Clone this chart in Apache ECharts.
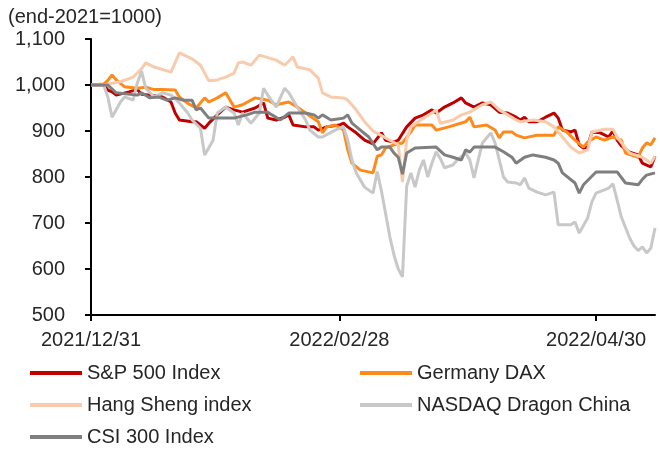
<!DOCTYPE html>
<html>
<head>
<meta charset="utf-8">
<script src="https://cdn.jsdelivr.net/npm/echarts@6/dist/echarts.min.js"></script>
<style>
  html, body { margin: 0; padding: 0; background: #fff; }
  #chart { width: 660px; height: 452px; }
</style>
</head>
<body>
<div id="chart"></div>
<script>
// index, end-2021 = 1000; points are [days after 2021/12/31, value]
var startDate = '2021/12/31';
var endDate = '2022/05/14';
var tickDates = ['2021/12/31', '2022/02/28', '2022/04/30'];
var seriesNames = ['S&P 500 Index', 'Germany DAX', 'Hang Sheng index', 'NASDAQ Dragon China', 'CSI 300 Index'];
var seriesColors = ['#C00000', '#FF8A1C', '#F8CBAD', '#C8C8C8', '#7F7F7F'];

var sp500 = [[0,1000],[3,1000],[4,989],[5,985],[6,978],[9,985],[11,990],[12,980],[14,978],[17,974],[19,963],[20,939],
  [21,924],[24,920],[25,920],[27,906],[28,917],[30,935],[32,952],[34,946],[36,941],[39,950],[41,961],[42,928],
  [44,924],[46,930],[47,935],[48,913],[51,909],[53,909],[54,902],[56,909],[59,913],[60,917],[61,909],[63,896],
  [65,880],[67,872],[69,896],[70,880],[72,876],[73,880],[75,909],[77,928],[79,935],[81,946],[82,939],[84,952],
  [86,961],[88,972],[89,961],[91,952],[93,961],[95,957],[97,941],[99,939],[101,930],[102,924],[103,930],[104,920],
  [106,920],[108,930],[110,939],[111,928],[112,902],[114,898],[115,902],[116,870],[117,863],[118,865],[119,898],
  [121,896],[123,887],[124,900],[125,880],[126,868],[128,854],[130,848],[131,830],[132,826],[133,822],[134,845]];

var dax = [[0,1000],[3,1002],[4,1010],[5,1022],[6,1011],[8,996],[11,993],[13,995],[15,990],[17,990],[20,989],
  [21,974],[23,960],[25,950],[27,972],[28,963],[30,972],[32,983],[34,952],[36,957],[39,972],[42,967],[44,957],
  [47,963],[49,952],[51,939],[54,920],[55,896],[56,909],[58,913],[60,902],[61,859],[62,830],[64,815],[67,809],
  [68,845],[69,848],[70,863],[72,870],[74,874],[76,898],[77,913],[81,913],[82,902],[85,909],[89,920],[90,930],
  [91,909],[94,913],[96,902],[97,885],[98,898],[100,898],[101,891],[103,885],[106,891],[110,891],[111,909],
  [113,898],[115,880],[117,865],[118,876],[120,887],[122,880],[124,887],[126,880],[127,852],[130,843],[131,863],
  [132,874],[133,870],[134,885]];

var hangSeng = [[0,1000],[3,1000],[7,1007],[10,1017],[12,1035],[13,1048],[15,1039],[19,1028],[21,1070],[24,1057],
  [26,1043],[28,1009],[30,1011],[32,1017],[34,1026],[35,1048],[36,1050],[38,1043],[40,1065],[44,1054],[46,1043],
  [48,1061],[49,1039],[52,1033],[54,1015],[55,983],[57,974],[60,972],[61,967],[63,946],[65,920],[67,900],[69,890],
  [71,880],[73,870],[74,789],[75,880],[76,909],[79,928],[81,939],[82,946],[83,917],[86,924],[88,935],[90,941],
  [93,957],[95,963],[97,946],[99,935],[101,924],[102,920],[105,924],[108,920],[110,909],[112,887],[114,865],
  [116,852],[118,859],[119,898],[122,904],[124,904],[125,887],[127,863],[128,852],[131,843],[132,837],[133,830],
  [134,845]];

var nasdaqDragon = [[0,1000],[3,1000],[4,974],[5,930],[7,963],[8,974],[10,967],[11,1004],[12,1030],[13,993],
  [15,974],[17,983],[19,978],[21,961],[23,939],[24,924],[26,906],[27,848],[29,880],[30,939],[32,952],[34,939],
  [35,913],[36,939],[38,917],[40,939],[41,993],[42,978],[44,952],[46,993],[47,983],[49,952],[51,924],[52,902],
  [54,887],[55,887],[58,902],[60,909],[61,880],[62,837],[63,809],[65,778],[67,765],[68,812],[69,770],[70,720],
  [71,670],[72,630],[73,600],[74,583],[75,780],[76,809],[77,778],[78,815],[79,837],[80,800],[81,830],[82,855],
  [83,840],[84,820],[86,826],[87,837],[89,852],[90,837],[91,798],[92,837],[93,874],[95,896],[96,874],[97,837],
  [98,800],[99,789],[101,787],[102,783],[103,798],[104,776],[106,767],[108,761],[110,767],[111,696],[114,696],
  [115,702],[116,678],[118,711],[119,746],[120,765],[123,776],[124,785],[125,750],[126,713],[128,667],[129,650],
  [130,640],[131,648],[132,635],[133,645],[134,689]];

var csi300 = [[0,1000],[4,1000],[6,983],[11,978],[12,983],[14,972],[16,974],[18,967],[20,972],[22,967],[24,967],
  [25,946],[26,950],[28,928],[30,928],[34,928],[37,935],[39,941],[42,941],[43,935],[45,924],[47,939],[51,939],
  [53,935],[54,928],[55,935],[57,924],[60,928],[61,935],[62,917],[64,902],[66,887],[68,859],[69,865],[71,865],
  [72,852],[73,843],[74,806],[75,852],[77,863],[82,865],[84,848],[86,843],[88,837],[89,859],[90,854],[91,865],
  [96,865],[98,855],[100,843],[101,830],[103,843],[105,848],[108,843],[110,837],[111,830],[112,809],[115,787],
  [116,765],[117,783],[120,811],[125,811],[127,787],[130,783],[131,795],[132,804],[134,809]];

// calendar days for the category axis
function fmt(d) {
    var m = d.getUTCMonth() + 1, day = d.getUTCDate();
    return d.getUTCFullYear() + '/' + (m < 10 ? '0' + m : m) + '/' + (day < 10 ? '0' + day : day);
}
var categories = [];
var d = new Date(startDate.replace(/\//g, '-') + 'T00:00:00Z');
var end = new Date(endDate.replace(/\//g, '-') + 'T00:00:00Z');
while (d <= end) {
    categories.push(fmt(d));
    d = new Date(d.getTime() + 86400000);
}

function toPairs(points) {
    return points.map(function (p) { return [categories[p[0]], p[1]]; });
}

var isTick = function (index) {
    return tickDates.indexOf(categories[index]) >= 0;
};

var font = 'Liberation Sans, Arial, sans-serif';
var allData = [sp500, dax, hangSeng, nasdaqDragon, csi300];

var legendBase = {
    orient: 'vertical',
    top: 363,
    padding: 0,
    height: 100,
    itemWidth: 52,
    itemHeight: 4,
    itemGap: 12,
    icon: 'rect',
    textStyle: { fontFamily: font, fontSize: 20, color: '#262626', lineHeight: 20 }
};

var chart = echarts.init(document.getElementById('chart'));
var option = {
    animation: false,
    color: seriesColors,
    title: {
        text: '(end-2021=1000)',
        left: 8,
        top: 7,
        padding: 0,
        textStyle: { fontFamily: font, fontSize: 20, fontWeight: 'normal', color: '#262626' }
    },
    grid: { left: 91, right: 5, top: 39, bottom: 137 },
    legend: [
        Object.assign({}, legendBase, { left: 30, data: [seriesNames[0], seriesNames[2], seriesNames[4]] }),
        Object.assign({}, legendBase, { left: 360, data: [seriesNames[1], seriesNames[3]] })
    ],
    xAxis: {
        type: 'category',
        data: categories,
        boundaryGap: false,
        axisLine: { lineStyle: { color: '#000', width: 2 } },
        axisTick: { interval: isTick, length: 6, lineStyle: { color: '#000', width: 2 } },
        axisLabel: {
            interval: isTick,
            margin: 15,
            fontFamily: font,
            fontSize: 20,
            color: '#262626'
        },
        splitLine: { show: false }
    },
    yAxis: {
        type: 'value',
        min: 500,
        max: 1100,
        interval: 100,
        axisLine: { show: true, lineStyle: { color: '#000', width: 2 } },
        axisTick: { show: true, length: 6, lineStyle: { color: '#000', width: 2 } },
        axisLabel: {
            margin: 26,
            fontFamily: font,
            fontSize: 20,
            color: '#262626',
            formatter: function (v) { return v.toLocaleString('en-US'); }
        },
        splitLine: { show: false }
    },
    series: seriesNames.map(function (name, i) {
        return {
            name: name,
            type: 'line',
            showSymbol: false,
            symbol: 'none',
            lineStyle: { width: 3, color: seriesColors[i] },
            data: toPairs(allData[i])
        };
    })
};
chart.setOption(option);
</script>
</body>
</html>
